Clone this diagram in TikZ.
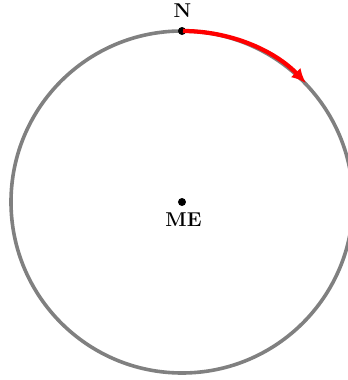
\documentclass[tikz,border=0pt]{standalone}
\usetikzlibrary{arrows.meta}
\begin{document}
\begin{tikzpicture}[x=0.75pt,y=0.75pt,
  circ/.style={draw=gray, line width=2.7pt},
  dotst/.style={circle, fill=black, inner sep=0pt, minimum size=6pt},
  lbl/.style={font={\fontsize{15}{18}\selectfont\bfseries}, inner sep=0pt},
  arr/.style={draw=red, line width=3.2pt, -{Latex[length=11pt,width=10pt]}}]
\clip (-182,-178) rectangle (166,202);
\useasboundingbox (-182,-178) rectangle (166,202);
\coordinate (c) at (0,0);
\draw[circ] (c) circle[radius=171];
\node[dotst] (me) at (0,0) {};
\node[dotst] (n) at (0,171) {};
\node[lbl] (nl) at (0.5,191) {N};
\node[lbl] (mel) at (1.5,-18) {ME};
\draw[arr] (n) ++(1,0) arc[start angle=90, end angle=44, radius=171];
\end{tikzpicture}
\end{document}
